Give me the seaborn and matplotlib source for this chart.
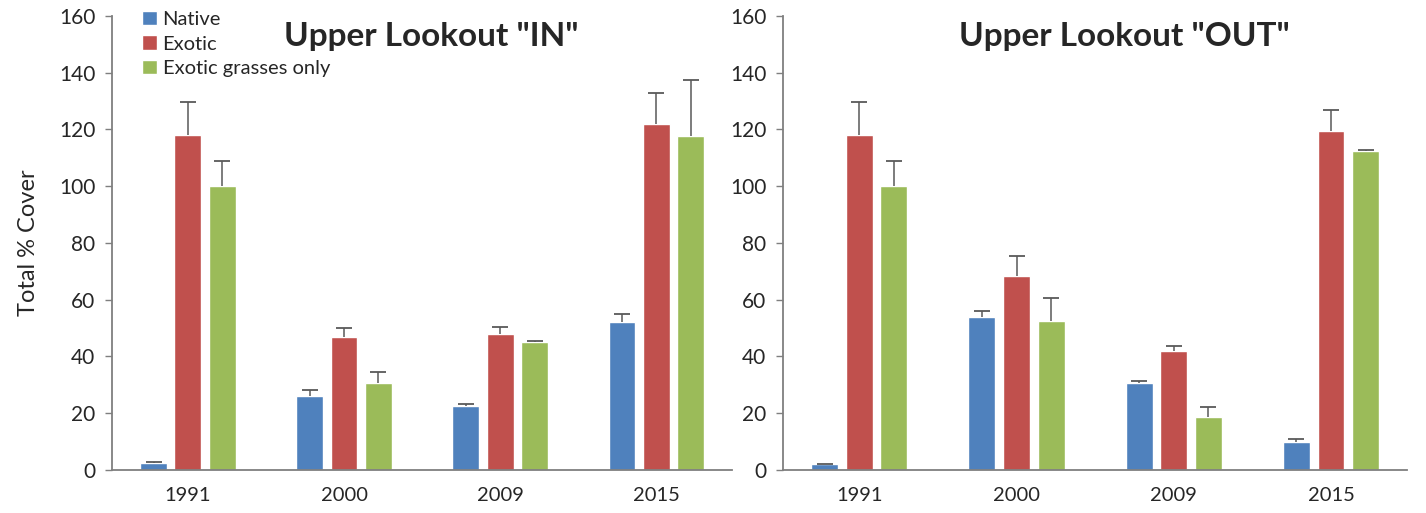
import pandas as pd
import matplotlib.pyplot as plt
import seaborn as sns

# values
years = ['1991', '2000', '2009', '2015']
groups = ['Native', 'Exotic', 'Exotic grasses only']

native_in = [2.5, 26, 22.5, 52]
exotic_in = [118, 47, 48, 122]
grasses_in = [100, 30.5, 45, 117.5]
native_in_err = [0.2, 2, 0.8, 3]
exotic_in_err = [11.5, 3, 2.5, 11]
grasses_in_err = [9, 4, 0.3, 20]

native_out = [2, 54, 30.5, 10]
exotic_out = [118, 68.5, 42, 119.5]
grasses_out = [100, 52.5, 18.5, 112.5]
native_out_err = [0.2, 2, 1, 0.8]
exotic_out_err = [11.5, 7, 1.5, 7.5]
grasses_out_err = [9, 8, 3.5, 0.2]

colors = ['#4F81BD', '#C0504D', '#9BBB59']

sns.set_style('white')
plt.rcParams['font.family'] = ['Lato', 'DejaVu Sans']


def to_long(native, exotic, grasses):
    rows = []
    for g, vals in zip(groups, [native, exotic, grasses]):
        for y, v in zip(years, vals):
            rows.append({'year': y, 'group': g, 'cover': v})
    return pd.DataFrame(rows)


def draw_panel(ax, df, errs, title, title_x, show_legend):
    sns.barplot(data=df, x='year', y='cover', hue='group', hue_order=groups,
                palette=colors, width=0.66, gap=0.22, saturation=1,
                errorbar=None, legend=show_legend, ax=ax)
    # upper-only error bars, positioned from the drawn bars
    for cont, err in zip(ax.containers, errs):
        for bar, e in zip(cont, err):
            xc = bar.get_x() + bar.get_width() / 2
            top = bar.get_height()
            ax.vlines(xc, top, top + e, color='#595959', lw=1.1, zorder=3)
            ax.plot([xc], [top + e], marker='_', ms=12, mew=1.3,
                    color='#595959', zorder=3)
    ax.set_ylim(0, 160)
    ax.set_yticks(range(0, 161, 20))
    ax.set_xlabel('')
    ax.set_ylabel('')
    sns.despine(ax=ax)
    for s in ['left', 'bottom']:
        ax.spines[s].set_color('#7f7f7f')
        ax.spines[s].set_linewidth(1.3)
    ax.tick_params(axis='y', length=5, width=1, color='#7f7f7f', pad=7,
                   labelsize=15, labelcolor='#262626', left=True)
    ax.tick_params(axis='x', length=0, labelsize=14.5, labelcolor='#262626', pad=12)
    ax.text(title_x, 0.955, title, transform=ax.transAxes, ha='center', va='center',
            fontsize=24, fontweight='bold')
    if show_legend:
        ax.legend(loc='upper left', bbox_to_anchor=(0.02, 1.05), frameon=False,
                  fontsize=14.5, handlelength=0.7, handleheight=0.7,
                  handletextpad=0.3, labelspacing=0.35)


fig = plt.figure(figsize=(14.26, 5.13), dpi=100)
ax1 = fig.add_axes([0.0785, 0.084, 0.435, 0.885])
ax2 = fig.add_axes([0.549, 0.084, 0.438, 0.885])

draw_panel(ax1, to_long(native_in, exotic_in, grasses_in),
           [native_in_err, exotic_in_err, grasses_in_err],
           'Upper Lookout "IN"', 0.515, True)
draw_panel(ax2, to_long(native_out, exotic_out, grasses_out),
           [native_out_err, exotic_out_err, grasses_out_err],
           'Upper Lookout "OUT"', 0.547, False)

ax1.set_ylabel('Total % Cover', fontsize=17, color='#262626', labelpad=14)

fig.savefig('out.png', dpi=100)
